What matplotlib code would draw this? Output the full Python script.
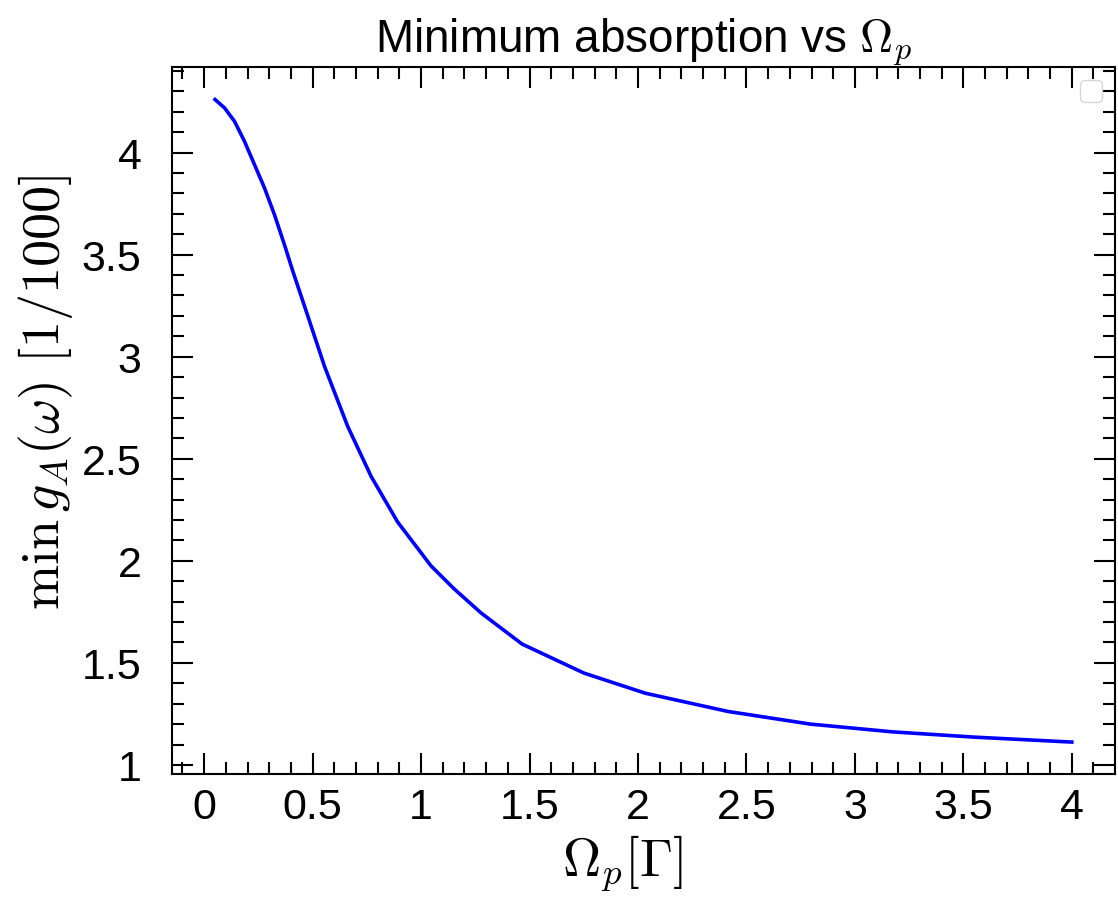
import numpy as np
import matplotlib
matplotlib.use('Agg')
from matplotlib import pyplot as plt
from matplotlib.ticker import MultipleLocator

plt.rcParams['font.family'] = ['Liberation Sans', 'DejaVu Sans']
plt.rcParams['mathtext.fontset'] = 'cm'

# values
omega_p = [0.05, 0.094, 0.14, 0.186, 0.232, 0.278, 0.324, 0.37, 0.409, 0.462,
           0.555, 0.662, 0.77, 0.892, 1.046, 1.15, 1.276, 1.466, 1.751, 2.035,
           2.415, 2.795, 3.174, 3.554, 4.0]
min_abs = [4.260, 4.219, 4.153, 4.055, 3.941, 3.827, 3.696, 3.549, 3.418, 3.250,
           2.952, 2.658, 2.413, 2.190, 1.975, 1.865, 1.745, 1.592, 1.450, 1.351,
           1.262, 1.200, 1.162, 1.136, 1.112]

fig = plt.figure(figsize=(11.18, 9.12), dpi=100)
ax = fig.add_axes([0.154, 0.150, 0.843, 0.775])

ax.plot(omega_p, min_abs, color='blue', linewidth=2.6)

ax.xaxis.set_major_locator(MultipleLocator(0.5))
ax.xaxis.set_minor_locator(MultipleLocator(0.1))
ax.yaxis.set_major_locator(MultipleLocator(0.5))
ax.yaxis.set_minor_locator(MultipleLocator(0.1))
ax.tick_params(which='both', direction='in', top=True, right=True, width=1.5)
ax.tick_params(which='major', length=15, labelsize=31)
ax.tick_params(which='minor', length=8.5)
ax.tick_params(axis='x', which='major', pad=9)
ax.tick_params(axis='y', which='major', pad=22)
for s in ax.spines.values():
    s.set_linewidth(1.5)

ax.xaxis.set_major_formatter(plt.FuncFormatter(lambda v, p: f'{v:g}'))
ax.yaxis.set_major_formatter(plt.FuncFormatter(lambda v, p: f'{v:g}'))

ax.set_xlabel(r'$\Omega_p[\Gamma]$', fontsize=38)
ax.set_ylabel(r'$\min\, g_A(\omega)\ [1/1000]$', fontsize=39)
ax.xaxis.set_label_coords(0.477, -0.082)
ax.yaxis.set_label_coords(-0.103, 0.542)
ax.set_title(r'Minimum absorption vs $\Omega_p$', fontsize=33, pad=12)
ax.legend(handles=[], loc='upper right', fontsize=20, borderaxespad=0.45)

fig.savefig('out.png', dpi=100)
